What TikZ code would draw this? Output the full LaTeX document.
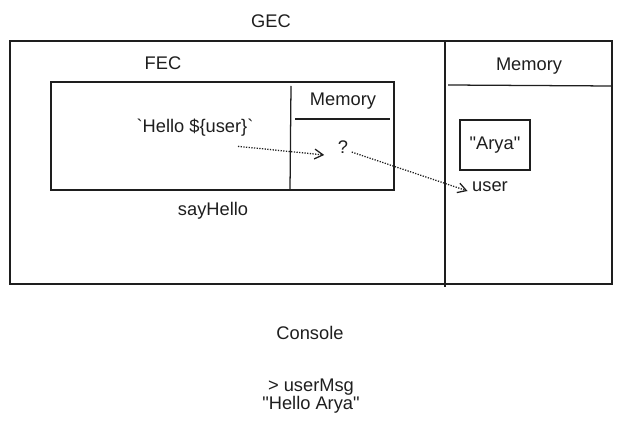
\documentclass[tikz,border=0pt]{standalone}
\usepackage{fontspec}
\setmainfont{Liberation Sans}
\usepackage{xcolor}
\definecolor{SketchInk}{RGB}{30, 30, 30}
\usepackage{tikz}
\usetikzlibrary{arrows.meta, positioning, calc}

\begin{document}
\begin{tikzpicture}[
        x=0.025cm, y=-0.025cm,
        frame/.style={rectangle, draw=SketchInk, line width=0.9pt, inner sep=0pt},
        label/.style={text=SketchInk, font=\fontsize{13}{13}\selectfont, inner sep=1pt, align=center},
        divider/.style={draw=SketchInk, line width=0.9pt},
        link/.style={-{Straight Barb[length=6pt, width=7pt]}, densely dotted, line width=0.9pt, color=SketchInk}
    ]
        \useasboundingbox (0,0) rectangle (623,432);

        % --- GLOBAL CONTEXT ---
        \node[label] (gec) at (271,21) {GEC};
        \node[frame, minimum width=15.05cm, minimum height=6.075cm] (gecbox) at (311,162.5) {};
        \draw[divider] (445,41) -- (445,287);
        \node[label] (gmem) at (529,66) {Memory};
        \draw[divider] (448,85) -- (612,86);

        % --- FUNCTION CONTEXT ---
        \node[label] (fec) at (163,63) {FEC};
        \node[frame, minimum width=8.575cm, minimum height=2.7cm] (fecbox) at (222.5,136) {};
        \draw[divider] (291,86) -- (290,190);
        \node[label] (fmem) at (343,101) {Memory};
        \draw[divider, line width=1.4pt] (295,119) -- (390,119);
        \node[label] (hello) at (195,128) {\textasciigrave Hello \$\{user\}\textasciigrave};
        \node[label] (qm) at (343,147) {?};
        \node[label] (say) at (213,211) {sayHello};

        % --- GLOBAL MEMORY ---
        \node[frame, minimum width=1.75cm, minimum height=1.25cm] (arya) at (495,145) {};
        \node[label] at (arya.center) {\textquotedbl Arya\textquotedbl};
        \node[label] (user) at (490,187) {user};

        % --- CONSOLE ---
        \node[label] (console) at (310,333) {Console};
        \node[label] (out) at (311,396) {> userMsg\\\textquotedbl Hello Arya\textquotedbl};

        % --- CONNECTIONS ---
        \draw[link] ($(hello.south)+(43,8)$) -- ($(qm.west)+(-12,8)$);
        \draw[link] ($(qm.south east)+(2,-3)$) -- ($(user.west)+(-3,4)$);

    \end{tikzpicture}
\end{document}
